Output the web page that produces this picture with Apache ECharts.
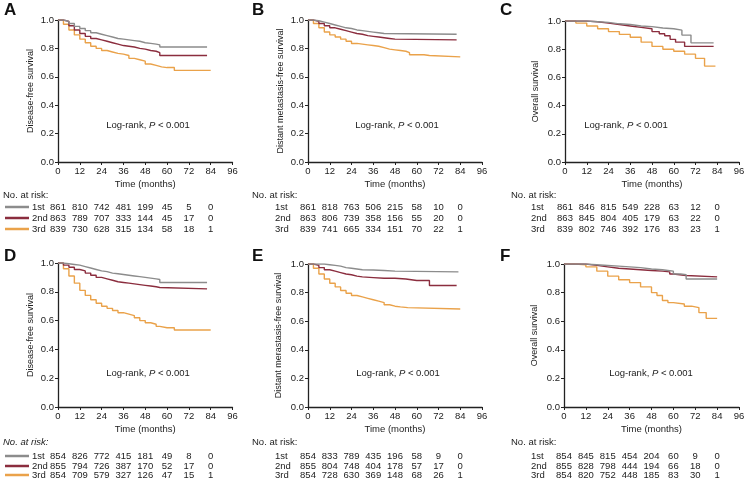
<!DOCTYPE html>
<html>
<head>
<meta charset="utf-8">
<script src="https://cdn.jsdelivr.net/npm/echarts@6/dist/echarts.min.js"></script>
<style>
html, body { margin: 0; padding: 0; background: #fff; }
#main { width: 748px; height: 482px; }
</style>
</head>
<body>
<div id="main"></div>
<script>
// group colours: 1st, 2nd, 3rd
var colors = ['#8c8c8c', '#8b2d3e', '#eaa24a'];
var groupNames = ['1st', '2nd', '3rd'];
var riskTimes = [0, 12, 24, 36, 48, 60, 72, 84];

// A - disease-free survival (top)
var tA1 = [0, 3, 6, 9, 12, 15, 18, 21, 24, 27, 30, 33, 36, 39, 42, 45, 48, 51, 54, 56, 82];
var sA1 = [1, 0.99, 0.975, 0.955, 0.94, 0.925, 0.91, 0.9, 0.89, 0.88, 0.87, 0.865, 0.86, 0.855, 0.85, 0.84, 0.835, 0.83, 0.825, 0.81, 0.81];
var tA2 = [0, 3, 6, 9, 12, 15, 18, 21, 24, 27, 30, 33, 36, 39, 42, 45, 48, 51, 54, 56, 82];
var sA2 = [1, 0.99, 0.96, 0.93, 0.905, 0.885, 0.87, 0.86, 0.85, 0.84, 0.83, 0.82, 0.815, 0.81, 0.8, 0.795, 0.785, 0.78, 0.77, 0.75, 0.75];
var tA3 = [0, 3, 6, 9, 12, 15, 18, 21, 24, 27, 30, 33, 36, 39, 42, 45, 48, 51, 54, 57, 60, 64, 84];
var sA3 = [1, 0.97, 0.93, 0.895, 0.865, 0.84, 0.815, 0.8, 0.785, 0.775, 0.765, 0.76, 0.75, 0.73, 0.72, 0.71, 0.69, 0.68, 0.67, 0.665, 0.665, 0.645, 0.645];
var riskA1 = [861, 810, 742, 481, 199, 45, 5, 0];
var riskA2 = [863, 789, 707, 333, 144, 45, 17, 0];
var riskA3 = [839, 730, 628, 315, 134, 58, 18, 1];

// B - distant metastasis-free survival (top)
var tB1 = [0, 3, 6, 9, 12, 15, 18, 21, 24, 27, 30, 33, 36, 39, 42, 82];
var sB1 = [1, 0.995, 0.985, 0.975, 0.965, 0.955, 0.945, 0.94, 0.93, 0.925, 0.92, 0.915, 0.91, 0.905, 0.9, 0.9];
var tB2 = [0, 3, 6, 9, 12, 15, 18, 21, 24, 27, 30, 33, 36, 39, 42, 45, 48, 82];
var sB2 = [1, 0.99, 0.975, 0.96, 0.945, 0.935, 0.925, 0.915, 0.905, 0.9, 0.89, 0.885, 0.88, 0.875, 0.87, 0.865, 0.86, 0.86];
var tB3 = [0, 3, 6, 9, 12, 15, 18, 21, 24, 27, 30, 33, 36, 39, 42, 45, 48, 51, 54, 56, 60, 64, 67, 84];
var sB3 = [1, 0.975, 0.945, 0.915, 0.895, 0.88, 0.865, 0.85, 0.835, 0.83, 0.825, 0.82, 0.815, 0.805, 0.795, 0.79, 0.785, 0.78, 0.77, 0.755, 0.755, 0.75, 0.74, 0.74];
var riskB1 = [861, 818, 763, 506, 215, 58, 10, 0];
var riskB2 = [863, 806, 739, 358, 156, 55, 20, 0];
var riskB3 = [839, 741, 665, 334, 151, 70, 22, 1];

// C - overall survival (top)
var tC1 = [0, 6, 12, 18, 24, 30, 36, 42, 48, 54, 60, 64.5, 69.5, 82];
var sC1 = [1, 1, 0.995, 0.99, 0.98, 0.975, 0.965, 0.96, 0.95, 0.945, 0.935, 0.9, 0.845, 0.845];
var tC2 = [0, 6, 12, 18, 24, 30, 36, 42, 48, 52, 55, 58, 61, 66, 82];
var sC2 = [1, 1, 0.995, 0.985, 0.975, 0.965, 0.955, 0.945, 0.925, 0.91, 0.895, 0.87, 0.85, 0.82, 0.82];
var tC3 = [0, 6, 12, 18, 24, 30, 36, 42, 48, 54, 60, 66, 72, 77, 83];
var sC3 = [1, 0.985, 0.965, 0.945, 0.925, 0.905, 0.885, 0.85, 0.82, 0.8, 0.785, 0.765, 0.735, 0.68, 0.68];
var riskC1 = [861, 846, 815, 549, 228, 63, 12, 0];
var riskC2 = [863, 845, 804, 405, 179, 63, 22, 0];
var riskC3 = [839, 802, 746, 392, 176, 83, 23, 1];

// D - disease-free survival (bottom)
var tD1 = [0, 3, 6, 9, 12, 15, 18, 21, 24, 27, 30, 33, 36, 39, 42, 45, 48, 51, 54, 56, 82];
var sD1 = [1, 0.995, 0.99, 0.985, 0.975, 0.965, 0.955, 0.945, 0.94, 0.93, 0.925, 0.92, 0.915, 0.91, 0.905, 0.9, 0.895, 0.89, 0.885, 0.865, 0.865];
var tD2 = [0, 3, 6, 9, 12, 15, 18, 21, 24, 27, 30, 33, 36, 39, 42, 45, 48, 51, 54, 56, 82];
var sD2 = [1, 0.985, 0.97, 0.955, 0.945, 0.93, 0.915, 0.9, 0.89, 0.88, 0.87, 0.865, 0.86, 0.855, 0.85, 0.845, 0.84, 0.835, 0.83, 0.82, 0.82];
var tD3 = [0, 3, 6, 9, 12, 15, 18, 21, 24, 27, 30, 33, 36, 39, 42, 45, 48, 51, 54, 56, 60, 64, 84];
var sD3 = [1, 0.96, 0.91, 0.86, 0.81, 0.775, 0.745, 0.72, 0.7, 0.685, 0.67, 0.655, 0.645, 0.635, 0.62, 0.6, 0.585, 0.575, 0.56, 0.55, 0.55, 0.535, 0.535];
var riskD1 = [854, 826, 772, 415, 181, 49, 8, 0];
var riskD2 = [855, 794, 726, 387, 170, 52, 17, 0];
var riskD3 = [854, 709, 579, 327, 126, 47, 15, 1];

// E - distant metastasis-free survival (bottom)
var tE1 = [0, 3, 6, 9, 12, 15, 18, 21, 24, 27, 30, 36, 42, 48, 83];
var sE1 = [1, 1, 1, 0.995, 0.99, 0.985, 0.975, 0.97, 0.965, 0.96, 0.958, 0.955, 0.95, 0.945, 0.945];
var tE2 = [0, 3, 6, 9, 12, 15, 18, 21, 24, 27, 30, 36, 42, 48, 54, 60, 67, 82];
var sE2 = [1, 0.99, 0.975, 0.96, 0.95, 0.94, 0.93, 0.925, 0.915, 0.91, 0.905, 0.9, 0.9, 0.895, 0.885, 0.885, 0.85, 0.85];
var tE3 = [0, 3, 6, 9, 12, 15, 18, 21, 24, 27, 30, 33, 36, 39, 42, 45, 48, 51, 55, 84];
var sE3 = [1, 0.97, 0.93, 0.895, 0.865, 0.84, 0.815, 0.795, 0.78, 0.77, 0.76, 0.75, 0.74, 0.73, 0.715, 0.705, 0.7, 0.695, 0.685, 0.685];
var riskE1 = [854, 833, 789, 435, 196, 58, 9, 0];
var riskE2 = [855, 804, 748, 404, 178, 57, 17, 0];
var riskE3 = [854, 728, 630, 369, 148, 68, 26, 1];

// F - overall survival (bottom)
var tF1 = [0, 6, 12, 18, 24, 30, 36, 42, 48, 54, 57, 60, 64, 67, 84];
var sF1 = [1, 1, 0.995, 0.99, 0.985, 0.98, 0.975, 0.965, 0.96, 0.955, 0.95, 0.93, 0.925, 0.895, 0.895];
var tF2 = [0, 6, 12, 18, 24, 30, 36, 42, 48, 54, 58, 60, 67, 84];
var sF2 = [1, 1, 0.99, 0.98, 0.97, 0.965, 0.96, 0.955, 0.95, 0.945, 0.93, 0.92, 0.91, 0.91];
var tF3 = [0, 6, 12, 18, 24, 30, 36, 42, 48, 51, 54, 57, 60, 66, 70, 74, 78, 84];
var sF3 = [1, 0.995, 0.98, 0.95, 0.915, 0.89, 0.87, 0.84, 0.8, 0.78, 0.745, 0.73, 0.72, 0.705, 0.695, 0.66, 0.62, 0.62];
var riskF1 = [854, 845, 815, 454, 204, 60, 9, 0];
var riskF2 = [855, 828, 798, 444, 194, 66, 18, 0];
var riskF3 = [854, 820, 752, 448, 185, 83, 30, 1];

var FONT = '"Liberation Sans", Arial, sans-serif';
var FS = 9.5;

var panels = [
    { letter: 'A', yName: 'Disease-free survival', grid: [58, 20, 174.5, 142], t: [tA1, tA2, tA3], s: [sA1, sA2, sA3], risk: [riskA1, riskA2, riskA3], lr: [148, 125], risky: [195, 207, 218, 229], lines: true, italic: false, rowLabelX: 32, noRiskX: 3, gap: 23 },
    { letter: 'B', yName: 'Distant metastasis-free survival', grid: [308, 20, 174, 142], t: [tB1, tB2, tB3], s: [sB1, sB2, sB3], risk: [riskB1, riskB2, riskB3], lr: [397, 125], risky: [195, 207, 218, 229], lines: false, italic: false, rowLabelX: 275, noRiskX: 252, gap: 23 },
    { letter: 'C', yName: 'Overall survival', grid: [565, 21, 174, 141], t: [tC1, tC2, tC3], s: [sC1, sC2, sC3], risk: [riskC1, riskC2, riskC3], lr: [626, 125], risky: [195, 207, 218, 229], lines: false, italic: false, rowLabelX: 531, noRiskX: 511, gap: 25 },
    { letter: 'D', yName: 'Disease-free survival', grid: [58, 263, 174.5, 144], t: [tD1, tD2, tD3], s: [sD1, sD2, sD3], risk: [riskD1, riskD2, riskD3], lr: [148, 373], risky: [442, 456, 466, 475], lines: true, italic: true, rowLabelX: 32, noRiskX: 3, gap: 23 },
    { letter: 'E', yName: 'Distant merastasis-free survival', grid: [308, 264, 174, 143], t: [tE1, tE2, tE3], s: [sE1, sE2, sE3], risk: [riskE1, riskE2, riskE3], lr: [398, 373], risky: [442, 456, 466, 475], lines: false, italic: false, rowLabelX: 275, noRiskX: 252, gap: 25 },
    { letter: 'F', yName: 'Overall survival', grid: [564, 264, 175, 143], t: [tF1, tF2, tF3], s: [sF1, sF2, sF3], risk: [riskF1, riskF2, riskF3], lr: [651, 373], risky: [442, 456, 466, 475], lines: false, italic: false, rowLabelX: 531, noRiskX: 511, gap: 25 }
];

var chart = echarts.init(document.getElementById('main'), null, { renderer: 'canvas' });

var grids = [], xAxes = [], yAxes = [], series = [];
panels.forEach(function (p, i) {
    grids.push({ left: p.grid[0], top: p.grid[1], width: p.grid[2], height: p.grid[3] });
    xAxes.push({
        type: 'value', gridIndex: i, min: 0, max: 96, interval: 12,
        name: 'Time (months)', nameLocation: 'middle', nameGap: 17,
        nameTextStyle: { fontFamily: FONT, fontSize: FS, color: '#222' },
        axisLine: { lineStyle: { color: '#222', width: 1.3 } },
        axisTick: { length: 3, lineStyle: { color: '#222' } },
        axisLabel: { fontFamily: FONT, fontSize: FS, color: '#222', margin: 4 },
        splitLine: { show: false }
    });
    yAxes.push({
        type: 'value', gridIndex: i, min: 0, max: 1, interval: 0.2,
        name: p.yName, nameLocation: 'middle', nameGap: p.gap,
        nameTextStyle: { fontFamily: FONT, fontSize: 9, color: '#222' },
        axisLine: { show: true, lineStyle: { color: '#222', width: 1.3 } },
        axisTick: { show: true, length: 3, lineStyle: { color: '#222' } },
        axisLabel: { fontFamily: FONT, fontSize: FS, color: '#222', margin: 4,
            formatter: function (v) { return v.toFixed(1); } },
        splitLine: { show: false }
    });
    for (var g = 0; g < 3; g++) {
        var pts = p.t[g].map(function (t, k) { return [t, p.s[g][k]]; });
        series.push({
            type: 'line', name: groupNames[g], xAxisIndex: i, yAxisIndex: i,
            data: pts, step: 'end', showSymbol: false, silent: true,
            lineStyle: { color: colors[g], width: 1.4 }, z: 5 - g,
            animation: false
        });
    }
});

chart.setOption({
    animation: false,
    textStyle: { fontFamily: FONT },
    grid: grids, xAxis: xAxes, yAxis: yAxes, series: series
});

// texts: panel letters, log-rank notes, risk tables
var elems = [];
panels.forEach(function (p, i) {
    var letterX = [4, 252, 500][i % 3];
    var letterY = i < 3 ? 2 : 248;
    elems.push({ type: 'text', left: letterX, top: letterY,
        style: { text: p.letter, font: 'bold 17px ' + FONT, fill: '#111' } });
    elems.push({ type: 'text', x: p.lr[0], y: p.lr[1],
        style: { text: '{n|Log-rank, }{i|P}{n| < 0.001}', align: 'center', verticalAlign: 'middle',
            rich: { n: { font: FS + 'px ' + FONT, fill: '#222' }, i: { font: 'italic ' + FS + 'px ' + FONT, fill: '#222' } } } });
    elems.push({ type: 'text', x: p.noRiskX, y: p.risky[0],
        style: { text: 'No. at risk:', font: (p.italic ? 'italic ' : '') + FS + 'px ' + FONT, fill: '#222', verticalAlign: 'middle' } });
    for (var g = 0; g < 3; g++) {
        var ry = p.risky[g + 1];
        if (p.lines) {
            elems.push({ type: 'line', shape: { x1: 5, y1: ry, x2: 29, y2: ry },
                style: { stroke: colors[g], lineWidth: 2.5 } });
        }
        elems.push({ type: 'text', x: p.rowLabelX, y: ry,
            style: { text: groupNames[g], font: FS + 'px ' + FONT, fill: '#222', verticalAlign: 'middle' } });
        riskTimes.forEach(function (t, k) {
            var px = chart.convertToPixel({ xAxisIndex: i }, t);
            elems.push({ type: 'text', x: px, y: ry,
                style: { text: String(p.risk[g][k]), font: FS + 'px ' + FONT, fill: '#222', align: 'center', verticalAlign: 'middle' } });
        });
    }
});
chart.setOption({ graphic: { elements: elems } });
</script>
</body>
</html>
